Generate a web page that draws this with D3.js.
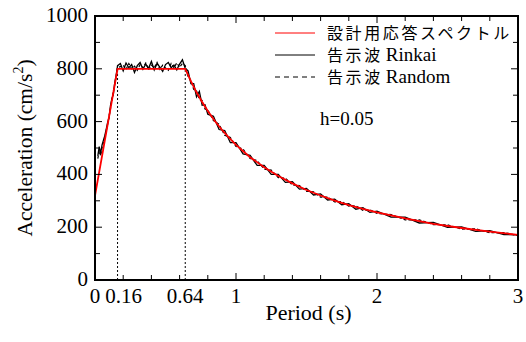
<!DOCTYPE html>
<html>
<head>
<meta charset="utf-8">
<script src="https://cdn.jsdelivr.net/npm/d3@7"></script>
<style>
  body { margin: 0; background: #fff; }
</style>
</head>
<body>
<div id="chart"></div>
<script>
var SERIF = "'Times New Roman', 'Liberation Serif', 'DejaVu Serif', serif"
var JP = "'Noto Sans CJK JP', sans-serif"

// design spectrum (h=0.05)
var designT = [0, 0.16, 0.64, 0.68, 0.72, 0.76, 0.8, 0.85, 0.9, 0.95, 1.0, 1.1, 1.2, 1.3, 1.4, 1.5, 1.6, 1.7, 1.8, 1.9, 2.0, 2.2, 2.4, 2.6, 2.8, 3.0]
var designA = [320, 800, 800, 753, 711, 674, 640, 602, 569, 539, 512, 465, 427, 394, 366, 341, 320, 301, 284, 269, 256, 233, 213, 197, 183, 171]

// periods where the wave spectra were read
var waveT = [0.02, 0.03, 0.04, 0.05, 0.06, 0.07, 0.08, 0.09, 0.10, 0.11, 0.12, 0.13, 0.14, 0.15, 0.16,
  0.18, 0.20, 0.22, 0.24, 0.26, 0.28, 0.30, 0.32, 0.34, 0.36, 0.38, 0.40, 0.42, 0.44, 0.46, 0.48,
  0.50, 0.52, 0.54, 0.56, 0.58, 0.60, 0.62, 0.64, 0.66, 0.68, 0.70, 0.72, 0.74, 0.76, 0.78, 0.80,
  0.84, 0.88, 0.92, 0.96, 1.00, 1.05, 1.10, 1.15, 1.20, 1.25, 1.30, 1.35, 1.40, 1.45, 1.50, 1.55,
  1.60, 1.65, 1.70, 1.75, 1.80, 1.85, 1.90, 1.95, 2.00, 2.10, 2.20, 2.30, 2.40, 2.50, 2.60, 2.70,
  2.80, 2.90, 3.00]
var rinkai = [470, 505, 480, 512, 530, 548, 572, 598, 615, 662, 688, 702, 748, 776, 812,
  820, 792, 822, 804, 816, 786, 812, 824, 798, 818, 802, 828, 796, 820, 806, 790,
  816, 824, 804, 814, 796, 818, 834, 802, 792, 744, 744, 694, 714, 662, 664, 628,
  620, 570, 566, 520, 520, 478, 472, 434, 434, 400, 400, 370, 372, 344, 347, 322,
  326, 303, 306, 285, 289, 268, 274, 256, 261, 238, 238, 216, 218, 199, 201, 184,
  187, 172, 171]
var random = [460, 490, 470, 500, 520, 540, 566, 590, 622, 650, 680, 715, 740, 770, 805,
  808, 814, 798, 820, 800, 810, 794, 816, 804, 822, 796, 814, 804, 824, 798, 814,
  803, 794, 820, 804, 822, 806, 820, 812, 770, 756, 722, 716, 684, 680, 648, 644,
  604, 590, 548, 540, 506, 496, 460, 452, 420, 416, 388, 386, 360, 358, 336, 334,
  314, 314, 296, 297, 280, 281, 264, 266, 252, 248, 228, 228, 210, 209, 193, 194,
  179, 180, 168]

var markT = [0.16, 0.64]
var xTickLabels = [0, 0.16, 0.64, 1, 2, 3]
var legendLabels = ['設計用応答スペクトル', '告示波 Rinkai', '告示波 Random']

var W = 526, H = 342
var margin = { top: 16, right: 8, bottom: 62, left: 95 }
var width = W - margin.left - margin.right
var height = H - margin.top - margin.bottom

var svg = d3.select('#chart').append('svg')
  .attr('width', W).attr('height', H)
var g = svg.append('g')
  .attr('transform', 'translate(' + margin.left + ',' + margin.top + ')')

var x = d3.scaleLinear().domain([0, 3]).range([0, width])
var y = d3.scaleLinear().domain([0, 1000]).range([height, 0])

g.append('clipPath').attr('id', 'clip')
  .append('rect').attr('width', width).attr('height', height)

// dotted guides at corner periods
g.selectAll('.guide').data(markT).enter().append('line')
  .attr('x1', function(d) { return x(d) }).attr('x2', function(d) { return x(d) })
  .attr('y1', y(0)).attr('y2', y(800))
  .attr('stroke', '#000').attr('stroke-width', 1).attr('stroke-dasharray', '2,2')

var line = d3.line()
  .x(function(d) { return x(d[0]) })
  .y(function(d) { return y(d[1]) })

var plot = g.append('g').attr('clip-path', 'url(#clip)')
plot.append('path').datum(d3.zip(waveT, random))
  .attr('d', line).attr('fill', 'none').attr('stroke', '#000')
  .attr('stroke-width', 1.2).attr('stroke-dasharray', '3,2')
plot.append('path').datum(d3.zip(waveT, rinkai))
  .attr('d', line).attr('fill', 'none').attr('stroke', '#000').attr('stroke-width', 1.3)
plot.append('path').datum(d3.zip(designT, designA))
  .attr('d', line).attr('fill', 'none').attr('stroke', '#f00').attr('stroke-width', 1.8)

// ticks, all pointing inward
var minorX = d3.range(0, 3.001, 0.2)
var minorY = d3.range(0, 1001, 100)
var ticks = g.append('g').attr('stroke', '#000').attr('stroke-width', 1)
minorX.forEach(function(t) {
  var len = Math.abs(t - Math.round(t)) < 1e-6 ? 7 : 5
  ticks.append('line').attr('x1', x(t)).attr('x2', x(t)).attr('y1', height).attr('y2', height - len)
  ticks.append('line').attr('x1', x(t)).attr('x2', x(t)).attr('y1', 0).attr('y2', len)
})
minorY.forEach(function(v) {
  var len = v % 200 === 0 ? 7 : 5
  ticks.append('line').attr('y1', y(v)).attr('y2', y(v)).attr('x1', 0).attr('x2', len)
  ticks.append('line').attr('y1', y(v)).attr('y2', y(v)).attr('x1', width).attr('x2', width - len)
})

g.append('rect').attr('width', width).attr('height', height)
  .attr('fill', 'none').attr('stroke', '#000').attr('stroke-width', 2)

// tick labels
g.selectAll('.xl').data(xTickLabels).enter().append('text')
  .style('font-family', SERIF)
  .attr('x', function(d) { return x(d) + (d === 0.16 ? 6 : 0) })
  .attr('y', height + 23)
  .attr('text-anchor', 'middle').attr('font-size', '21px')
  .text(function(d) { return d })
g.selectAll('.yl').data(d3.range(0, 1001, 200)).enter().append('text')
  .style('font-family', SERIF)
  .attr('x', -7).attr('y', function(d) { return y(d) + 6 })
  .attr('text-anchor', 'end').attr('font-size', '21px')
  .text(function(d) { return d })

// axis titles
g.append('text').style('font-family', SERIF)
  .attr('x', width / 2 + 2).attr('y', height + 40)
  .attr('text-anchor', 'middle').attr('font-size', '22px').text('Period (s)')
var yt = svg.append('text').style('font-family', SERIF)
  .attr('transform', 'translate(32,148) rotate(-90)')
  .attr('text-anchor', 'middle').attr('font-size', '21.5px')
yt.append('tspan').text('Acceleration (cm/s')
yt.append('tspan').attr('dy', -9).attr('font-size', '14px').text('2')
yt.append('tspan').attr('dy', 9).text(')')

// legend
var legendStyles = [
  { stroke: '#f00', dash: null },
  { stroke: '#000', dash: null },
  { stroke: '#000', dash: '5,4' }
]
var legend = svg.append('g').attr('transform', 'translate(275,33)')
legendLabels.forEach(function(lab, i) {
  var row = legend.append('g').attr('transform', 'translate(0,' + (i * 22) + ')')
  row.append('line').attr('x1', 0).attr('x2', 40).attr('y1', 0).attr('y2', 0)
    .attr('stroke', legendStyles[i].stroke).attr('stroke-width', 1)
    .attr('stroke-dasharray', legendStyles[i].dash)
  var parts = lab.split(' ')
  var t = row.append('text').attr('x', 52).attr('y', 6)
    .style('font-family', SERIF).attr('font-size', '19px')
  t.append('tspan').style('font-family', JP).attr('font-size', '16px')
    .attr('letter-spacing', '2.6').text(parts[0])
  if (parts[1]) t.append('tspan').attr('dx', 3).text(parts[1])
})

svg.append('text').style('font-family', SERIF)
  .attr('x', 320).attr('y', 125).attr('font-size', '19px').text('h=0.05')
</script>
</body>
</html>
